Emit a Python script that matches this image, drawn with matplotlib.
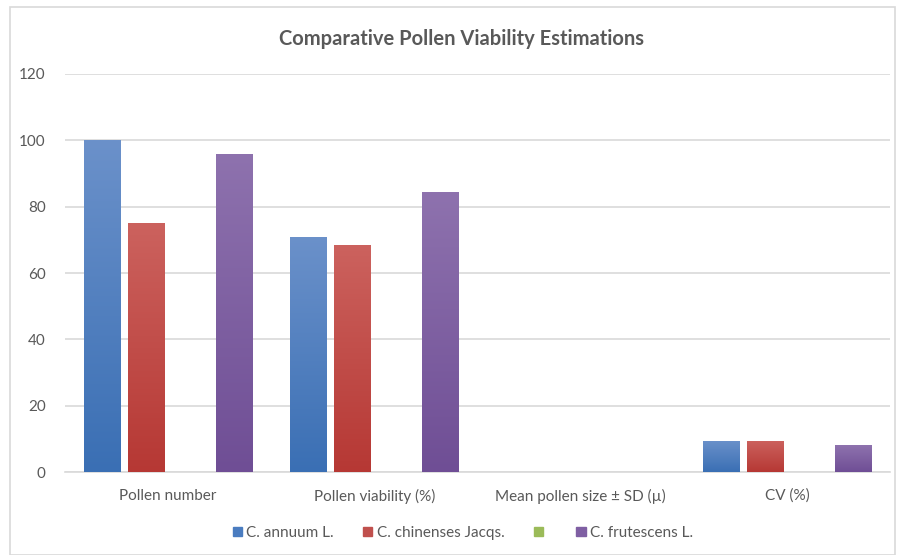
import numpy as np
import matplotlib.pyplot as plt
from matplotlib.colors import LinearSegmentedColormap
from matplotlib.patches import Rectangle

categories = ["Pollen number", "Pollen viability (%)", "Mean pollen size \u00b1 SD (\u00b5)", "CV (%)"]
series_names = ["C. annuum L.", "C. chinenses Jacqs.", "", "C. frutescens L."]
annuum = [100, 71, 0, 9.5]
chinenses = [75, 68.4, 0, 9.5]
green = [0, 0, 0, 0]
frutescens = [96, 84.3, 0, 8.1]

series = [annuum, chinenses, green, frutescens]
top_cols = ["#6b91ca", "#cc625e", "#a6c766", "#8e72ae"]
bot_cols = ["#3a6fb4", "#b63834", "#86ab45", "#6f4e95"]
legend_cols = ["#4a7cc0", "#c0504d", "#9bbb59", "#7f5fa3"]

plt.rcParams['font.family'] = ['Lato', 'DejaVu Sans']
fig = plt.figure(figsize=(8.99, 5.55), dpi=100)
ax = fig.add_axes([0.0723, 0.1495, 0.918, 0.7172])

x = np.arange(len(categories))
w = 0.179
step = 0.213
grad = np.linspace(0, 1, 256).reshape(-1, 1)
for i, vals in enumerate(series):
    off = (i - 1.5) * step
    bars = ax.bar(x + off, vals, w, color=legend_cols[i], label=series_names[i], zorder=2)
    cmap = LinearSegmentedColormap.from_list("g%d" % i, [bot_cols[i], top_cols[i]])
    for b in bars:
        if b.get_height() <= 0:
            continue
        bx, by = b.get_x(), b.get_y()
        im = ax.imshow(grad, cmap=cmap, aspect='auto', origin='lower',
                       extent=[bx, bx + b.get_width(), by, by + b.get_height()], zorder=3)
        im.set_clip_path(b)

ax.set_xlim(-0.5, 3.5)
ax.set_ylim(0, 120)
ax.set_yticks(range(0, 121, 20))
ax.set_xticks(x)
ax.set_xticklabels(categories)
ax.yaxis.grid(True, color="#d9d9d9", linewidth=1.2, zorder=0)
ax.set_axisbelow(True)
for s in ["top", "right", "left"]:
    ax.spines[s].set_visible(False)
ax.spines["bottom"].set_color("#d9d9d9")
ax.spines["bottom"].set_linewidth(1.2)
ax.tick_params(length=0, labelsize=11, labelcolor="#595959", pad=12)
ax.tick_params(axis='y', pad=14)

fig.text(0.513, 0.93, "Comparative Pollen Viability Estimations", ha="center", va="center",
         fontsize=14.5, fontweight="bold", color="#595959")

handles = [Rectangle((0, 0), 1, 1, color=c) for c in legend_cols]
fig.legend(handles, series_names, loc="center", bbox_to_anchor=(0.515, 0.04), ncol=4,
           frameon=False, fontsize=11, labelcolor="#595959", handlelength=0.6,
           handleheight=0.6, handletextpad=0.3, columnspacing=1.9)

fig.add_artist(Rectangle((0.011, 0.0), 0.985, 0.987, transform=fig.transFigure,
                         fill=False, edgecolor="#d9d9d9", linewidth=1.2))

fig.savefig("out.png", dpi=100)
